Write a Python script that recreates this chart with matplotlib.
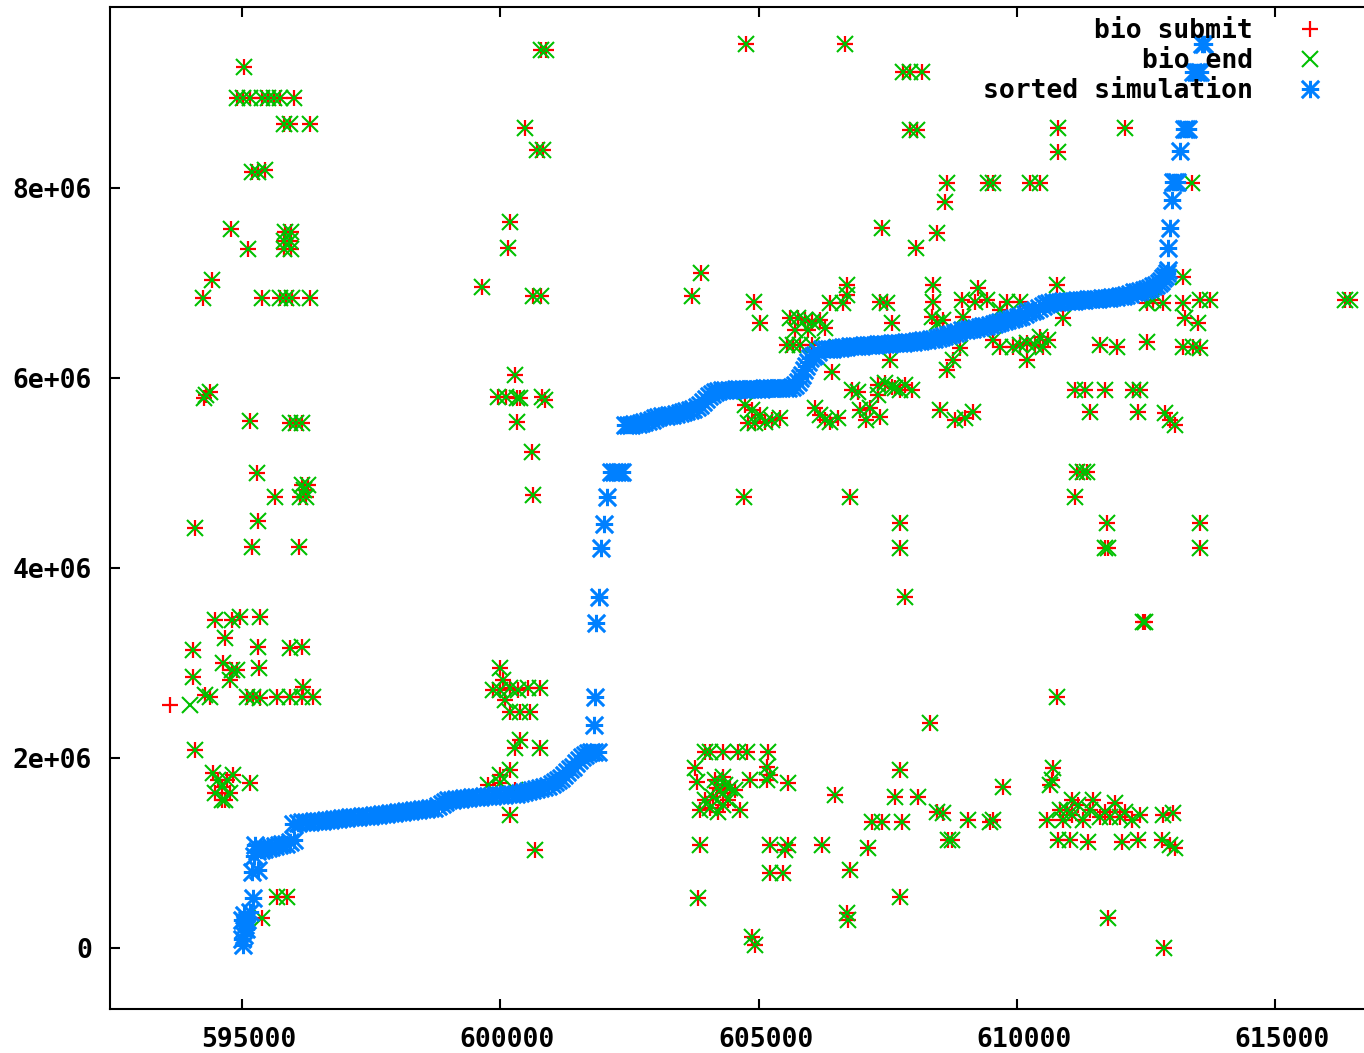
import matplotlib
matplotlib.use("Agg")
import matplotlib.pyplot as plt
import matplotlib.transforms as mtransforms
from matplotlib.font_manager import FontProperties
from matplotlib.path import Path
from matplotlib.ticker import FuncFormatter
import numpy as np

# bio submit / bio end share most positions (y in millions)
bio_x = [
    595040, 594900, 595020, 595150, 595390, 595500, 595620, 595740, 596010,
    595810, 595930, 596320, 595190, 595310, 595450, 594790, 595120,
    595830, 595950, 595810, 595930, 595810, 595950, 594420, 594240,
    595390, 595740, 595850, 595970, 596320, 594300, 594380, 594260,
    595150, 595930, 596050, 596160, 595290, 595640, 596160, 596280,
    596120, 596240, 596200, 595310, 594090, 595190, 596100,
    594480, 594810, 594960, 595350, 594670, 594050, 595310, 595330,
    595930, 596160, 594630, 594810, 594900, 594050, 594770, 596180,
    594280, 594380, 595100, 595210, 595350, 595680, 595930, 596160, 596370,
    594090, 594440, 594710, 594610, 594770, 594610, 594480, 594830,
    594540, 594670, 595150, 595680, 595870, 595390,
    # around 600000
    600890, 600790, 600480, 600710, 600830, 600190, 600150, 599650,
    600630, 600790, 600290, 599960, 600110, 600320, 600380, 600810,
    600870, 600320, 600610, 600630, 599990, 600050, 599860, 599990,
    600190, 600340, 600540, 600770, 600090, 600190, 600380, 600580,
    600380, 600290, 600770, 599990, 600190, 599990, 599760, 600290,
    600190, 600670,
    # 604000 - 606000 low
    603960, 604060, 604310, 604600, 604780, 605180, 603770, 603810,
    604310, 604830, 605160, 605220, 605160, 605570, 604200, 604120,
    604310, 604450, 603870, 604060, 604640, 604310, 603870, 605220,
    605510, 605570, 605220, 605470, 603830, 604870, 604930,
    604160, 604350, 604550, 603960, 604220, 604410,
    # 606000 - 610000 low
    606480, 606230, 606770, 606710, 606730, 607200, 607120, 607390,
    607640, 607740, 607780, 607740, 608090, 608320, 608460, 608570,
    608670, 608750, 609060, 609480, 609540, 609730,
    # 610000 - 613000 low
    610700, 610680, 610640, 611070, 611480, 610970, 611070, 610580,
    610890, 611280, 611610, 611800, 611900, 612000, 612230, 612380,
    612830, 613020, 610800, 611030, 611380, 612040, 612350, 612810,
    612970, 613060, 610780, 612480, 612440, 611770, 612850,
    611170, 611280, 611360, 611130, 611750, 611710, 611770, 613550, 613550,
    611190, 611420, 611710, 612090, 610830,
    # upper middle
    604760, 606670, 607800, 607930, 608160, 607930, 608070, 607390,
    608050, 608460, 608650, 608610, 609440, 609540, 610260, 610450,
    610800, 610800, 612090, 613390, 603890, 603710, 604910, 605030,
    605610, 605760, 605900, 606040, 606190, 605710, 605960, 606290,
    605670, 605550, 605800, 606040, 606710, 606710, 606380, 606640,
    607350, 607490, 607580, 608380, 608380, 608360, 608460, 608570,
    608940, 609250, 609190, 609420, 609810, 610060, 608960, 609670,
    610780, 610890, 606520, 607550, 606420, 608650, 608760, 608900,
    609540, 609670, 609930, 610200, 610510, 610450, 610200, 611610,
    611940, 612520, 613220, 613410, 612830, 613220, 613220, 613260,
    612520, 612640, 613550, 613740, 613510, 613550, 616450, 616350,
    610060, 610350, 610600,
    # middle band 5.5e6 - 6e6
    604740, 604870, 605030, 605130, 605260, 605420, 604800, 604930,
    606090, 606190, 606290, 606380, 606540, 606810, 606930, 606960,
    607160, 607350, 607080, 607310, 607450, 607580, 607740, 607840,
    607970, 607310, 607640, 606770, 607740, 607740, 607840, 608510,
    608800, 608990, 609150, 611130, 611320, 611420, 611710, 612250,
    612380, 612350, 612870, 612970, 613060, 604720,
]
bio_y = [
    9.27, 8.95, 8.95, 8.95, 8.95, 8.95, 8.95, 8.95, 8.95,
    8.67, 8.67, 8.67, 8.17, 8.17, 8.19, 7.57, 7.36,
    7.54, 7.54, 7.44, 7.44, 7.36, 7.36, 7.03, 6.84,
    6.84, 6.84, 6.84, 6.84, 6.84, 5.82, 5.85, 5.79,
    5.55, 5.53, 5.53, 5.53, 5.00, 4.75, 4.87, 4.87,
    4.75, 4.75, 4.82, 4.49, 4.42, 4.22, 4.22,
    3.45, 3.45, 3.48, 3.48, 3.26, 3.14, 3.17, 2.95,
    3.16, 3.17, 3.00, 2.93, 2.93, 2.85, 2.82, 2.75,
    2.66, 2.64, 2.64, 2.64, 2.63, 2.64, 2.64, 2.64, 2.64,
    2.08, 1.84, 1.77, 1.69, 1.63, 1.56, 1.63, 1.82,
    1.77, 1.56, 1.74, 0.54, 0.54, 0.32,
    # around 600000
    9.45, 9.45, 8.63, 8.40, 8.40, 7.64, 7.37, 6.96,
    6.86, 6.86, 6.03, 5.80, 5.80, 5.79, 5.79, 5.80,
    5.77, 5.54, 5.22, 4.77, 2.95, 2.82, 2.72, 2.72,
    2.74, 2.72, 2.74, 2.74, 2.61, 2.48, 2.48, 2.48,
    2.19, 2.11, 2.11, 1.82, 1.87, 1.74, 1.72, 1.66,
    1.40, 1.03,
    # 604000 - 606000 low
    2.06, 2.06, 2.06, 2.06, 2.06, 2.06, 1.89, 1.75,
    1.80, 1.77, 1.91, 1.82, 1.77, 1.74, 1.68, 1.59,
    1.63, 1.68, 1.45, 1.47, 1.45, 1.51, 1.08, 1.08,
    1.03, 1.08, 0.79, 0.79, 0.53, 0.12, 0.03,
    1.77, 1.72, 1.66, 1.56, 1.43, 1.56,
    # 606000 - 610000 low
    1.61, 1.08, 0.82, 0.37, 0.29, 1.33, 1.05, 1.33,
    1.59, 1.87, 1.33, 0.54, 1.59, 2.37, 1.43, 1.42,
    1.14, 1.14, 1.35, 1.33, 1.35, 1.69,
    # 610000 - 613000 low
    1.89, 1.77, 1.72, 1.56, 1.56, 1.45, 1.40, 1.35,
    1.35, 1.35, 1.38, 1.38, 1.53, 1.38, 1.35, 1.40,
    1.40, 1.42, 1.14, 1.14, 1.12, 1.12, 1.14, 1.14,
    1.08, 1.05, 2.64, 3.43, 3.43, 0.32, 0.00,
    5.01, 5.01, 5.01, 4.75, 4.47, 4.21, 4.21, 4.47, 4.21,
    1.51, 1.45, 1.43, 1.43, 1.45,
    # upper middle
    9.52, 9.52, 9.22, 9.22, 9.22, 8.61, 8.61, 7.58,
    7.37, 7.53, 8.05, 7.85, 8.05, 8.05, 8.05, 8.05,
    8.63, 8.38, 8.63, 8.05, 7.11, 6.86, 6.80, 6.58,
    6.63, 6.63, 6.61, 6.59, 6.61, 6.51, 6.51, 6.53,
    6.35, 6.35, 6.35, 6.35, 6.98, 6.87, 6.79, 6.79,
    6.80, 6.79, 6.58, 6.98, 6.80, 6.64, 6.58, 6.61,
    6.82, 6.95, 6.80, 6.82, 6.80, 6.80, 6.64, 6.72,
    6.98, 6.63, 6.33, 6.19, 6.06, 6.08, 6.19, 6.32,
    6.40, 6.33, 6.33, 6.37, 6.33, 6.43, 6.19, 6.35,
    6.33, 6.38, 6.33, 6.33, 6.79, 6.79, 7.06, 6.63,
    6.79, 6.82, 6.82, 6.82, 6.58, 6.32, 6.82, 6.82,
    6.35, 6.35, 6.40,
    # middle band 5.5e6 - 6e6
    5.72, 5.66, 5.61, 5.54, 5.56, 5.58, 5.53, 5.53,
    5.68, 5.61, 5.56, 5.54, 5.58, 5.87, 5.85, 5.66,
    5.68, 5.59, 5.56, 5.93, 5.95, 5.91, 5.87, 5.93,
    5.87, 5.82, 5.89, 4.75, 4.47, 4.21, 3.69, 5.66,
    5.56, 5.58, 5.64, 5.87, 5.87, 5.64, 5.87, 5.87,
    5.87, 5.64, 5.63, 5.56, 5.51, 4.75,
]
submit_only_x = [593610]
submit_only_y = [2.56]
end_only_x = [593990]
end_only_y = [2.56]

# sorted simulation (y in millions)
sim_x = [
    # bottom cluster
    595020, 595000, 595040, 595060, 595080, 595040, 595100, 595000,
    595160, 595210, 595190, 595310,
    # first step
    595230, 595260, 595290, 595360, 595430, 595500, 595570, 595640,
    595710, 595780, 595850, 595920, 596010,
    # long slow rise
    595980, 596080, 596160, 596240, 596310, 596390, 596470, 596550,
    596620, 596700, 596780, 596860, 596930, 597010, 597090, 597170,
    597240, 597320, 597400, 597480, 597550, 597630, 597710, 597790,
    597860, 597940, 598020, 598100, 598170, 598250, 598330, 598410,
    598480, 598560, 598640, 598720, 598800, 598870, 598930, 598990,
    599060, 599140, 599220, 599300, 599370, 599450, 599530, 599610,
    599680, 599760, 599840, 599920, 599990, 600070, 600150, 600230,
    600300, 600380, 600460, 600540, 600610, 600690, 600770, 600850,
    600920, 601000, 601060, 601120, 601180, 601230, 601290, 601350,
    601410, 601470, 601530, 601580, 601640, 601700, 601760, 601820,
    601890,
    # vertical jump
    601820, 601830, 601850, 601910, 601950, 602010, 602070,
    602140, 602200, 602260, 602320, 602360,
    # 5.5e6 plateau
    602410, 602470, 602530, 602590, 602660, 602730, 602790, 602860,
    602930, 603000, 603060, 603130, 603200, 603270, 603330, 603400,
    603470, 603540, 603600, 603670, 603740, 603810, 603870, 603930,
    603990, 604040, 604100, 604160, 604220, 604290, 604360, 604430,
    604500, 604560, 604630, 604700, 604770, 604840, 604900, 604970,
    605040, 605110, 605170, 605240, 605310, 605380, 605440, 605510,
    605580, 605650, 605710, 605760, 605800, 605840, 605880, 605920,
    605960, 606000, 606050, 606090, 606160,
    # 6.3e6 - 7.1e6 rise
    606230, 606300, 606360, 606430, 606500, 606570, 606640, 606700,
    606770, 606840, 606910, 606980, 607040, 607110, 607180, 607250,
    607310, 607380, 607450, 607520, 607580, 607650, 607720, 607790,
    607860, 607920, 607990, 608060, 608130, 608190, 608260, 608330,
    608400, 608470, 608530, 608600, 608670, 608730, 608800, 608870,
    608940, 609010, 609080, 609140, 609210, 609280, 609350, 609410,
    609480, 609550, 609620, 609680, 609750, 609820, 609890, 609950,
    610020, 610090, 610160, 610220, 610290, 610360, 610430, 610500,
    610570, 610630, 610700, 610770, 610840, 610900, 610970, 611040,
    611110, 611170, 611240, 611310, 611380, 611440, 611510, 611580,
    611650, 611720, 611790, 611850, 611920, 611990, 612060, 612120,
    612190, 612260, 612330, 612390, 612460, 612520, 612580, 612640,
    612700, 612750, 612790, 612830, 612870, 612900, 612930,
    # top tail
    612930, 612970, 613010, 613030, 613070, 613110, 613160,
    613240, 613280, 613320, 613410, 613460, 613500, 613550,
    613580, 613620,
]
sim_y = [
    # bottom cluster
    0.03, 0.10, 0.14, 0.24, 0.20, 0.35, 0.30, 0.30,
    0.38, 0.53, 0.80, 0.82,
    # first step
    0.97, 1.08, 1.02, 1.03, 1.04, 1.05, 1.06, 1.07,
    1.08, 1.09, 1.10, 1.12, 1.14,
    # long slow rise
    1.31, 1.32, 1.33, 1.33, 1.33, 1.34, 1.34, 1.34,
    1.35, 1.35, 1.36, 1.36, 1.37, 1.37, 1.38, 1.38,
    1.38, 1.39, 1.39, 1.39, 1.40, 1.40, 1.41, 1.41,
    1.42, 1.42, 1.43, 1.43, 1.44, 1.44, 1.45, 1.45,
    1.46, 1.46, 1.47, 1.47, 1.50, 1.52, 1.54, 1.56,
    1.56, 1.57, 1.57, 1.58, 1.58, 1.59, 1.59, 1.59,
    1.60, 1.60, 1.60, 1.61, 1.61, 1.61, 1.62, 1.62,
    1.62, 1.63, 1.64, 1.65, 1.66, 1.67, 1.68, 1.70,
    1.71, 1.73, 1.75, 1.77, 1.79, 1.82, 1.85, 1.88,
    1.91, 1.95, 1.98, 2.01, 2.03, 2.05, 2.06, 2.06,
    2.06,
    # vertical jump
    2.35, 2.64, 3.42, 3.69, 4.21, 4.46, 4.75,
    5.01, 5.01, 5.01, 5.01, 5.01,
    # 5.5e6 plateau
    5.51, 5.51, 5.51, 5.52, 5.52, 5.53, 5.54, 5.55,
    5.56, 5.58, 5.59, 5.60, 5.60, 5.61, 5.61, 5.62,
    5.63, 5.64, 5.65, 5.66, 5.67, 5.69, 5.72, 5.75,
    5.78, 5.81, 5.83, 5.85, 5.86, 5.87, 5.87, 5.87,
    5.87, 5.88, 5.88, 5.88, 5.88, 5.88, 5.88, 5.88,
    5.88, 5.89, 5.89, 5.89, 5.89, 5.89, 5.89, 5.89,
    5.89, 5.90, 5.93, 5.96, 6.00, 6.03, 6.08, 6.13,
    6.17, 6.21, 6.23, 6.24, 6.27,
    # 6.3e6 - 7.1e6 rise
    6.30, 6.30, 6.31, 6.31, 6.32, 6.32, 6.33, 6.33,
    6.34, 6.34, 6.34, 6.34, 6.35, 6.35, 6.35, 6.35,
    6.36, 6.36, 6.36, 6.36, 6.37, 6.37, 6.37, 6.37,
    6.38, 6.38, 6.38, 6.39, 6.39, 6.40, 6.40, 6.41,
    6.41, 6.42, 6.43, 6.44, 6.45, 6.46, 6.47, 6.48,
    6.50, 6.51, 6.52, 6.52, 6.53, 6.54, 6.55, 6.55,
    6.56, 6.57, 6.58, 6.59, 6.60, 6.61, 6.62, 6.63,
    6.64, 6.65, 6.67, 6.69, 6.71, 6.72, 6.74, 6.76,
    6.78, 6.79, 6.80, 6.80, 6.80, 6.81, 6.81, 6.81,
    6.81, 6.82, 6.82, 6.82, 6.83, 6.83, 6.83, 6.83,
    6.84, 6.84, 6.84, 6.85, 6.85, 6.86, 6.86, 6.87,
    6.88, 6.90, 6.91, 6.92, 6.93, 6.94, 6.95, 6.97,
    6.98, 7.00, 7.02, 7.05, 7.07, 7.10, 7.14,
    # top tail
    7.37, 7.58, 7.87, 8.06, 8.06, 8.06, 8.39,
    8.62, 8.62, 8.62, 9.22, 9.22, 9.22, 9.22,
    9.52, 9.52,
]

x_ticks = [595000, 600000, 605000, 610000, 615000]
y_ticks = [0, 2e6, 4e6, 6e6, 8e6]

red = "#ff0000"
green = "#00c000"
blue = "#0080ff"

# gnuplot style star: plus and cross together
star = Path([(-1, 0), (1, 0), (0, -1), (0, 1), (-1, -1), (1, 1), (-1, 1), (1, -1)],
            [Path.MOVETO, Path.LINETO] * 4)

font = dict(family="DejaVu Sans Mono", weight="bold", size=19)

fig = plt.figure(figsize=(13.64, 10.53), dpi=100)
ax = fig.add_axes([110 / 1364, 1 - 1009 / 1053, 1 - 110 / 1364, (1009 - 7) / 1053])

ms = 11.5
sx = np.array(bio_x + submit_only_x)
sy = np.array(bio_y + submit_only_y) * 1e6
ex = np.array(bio_x + end_only_x)
ey = np.array(bio_y + end_only_y) * 1e6
ax.plot(sx, sy, ls="none", marker="+", ms=ms, mew=1.6, color=red, label="bio submit")
ax.plot(ex, ey, ls="none", marker="x", ms=ms * 0.95, mew=1.5, color=green, label="bio end")
ax.plot(sim_x, np.array(sim_y) * 1e6, ls="none", marker=star, ms=12.5, mew=2.2,
        color=blue, label="sorted simulation")

ax.set_xlim(592444, 616722)
ax.set_ylim(-0.642e6, 9.905e6)
ax.set_xticks(x_ticks)
ax.set_yticks(y_ticks)
ax.yaxis.set_major_formatter(FuncFormatter(lambda v, p: "%g" % v))
ax.xaxis.set_major_formatter(FuncFormatter(lambda v, p: "%d" % v))
ax.tick_params(direction="in", length=7, width=1.5, top=True, right=False)
ax.tick_params(axis="x", pad=13)
ax.tick_params(axis="y", pad=13)
for lab in ax.get_xticklabels() + ax.get_yticklabels():
    lab.set_fontproperties(FontProperties(**font))
shift = mtransforms.ScaledTranslation(7 / 100, 0, fig.dpi_scale_trans)
for lab in ax.get_xticklabels():
    lab.set_transform(lab.get_transform() + shift)
for s in ["left", "bottom", "top"]:
    ax.spines[s].set_linewidth(1.5)
ax.spines["right"].set_visible(False)

ax.legend(loc="upper right", markerfirst=False, frameon=False,
          prop=FontProperties(**font),
          handlelength=2, handletextpad=1.15, labelspacing=0.15,
          borderpad=0, borderaxespad=0,
          bbox_to_anchor=(1336 / 1364, 1 - 18 / 1053),
          bbox_transform=fig.transFigure)

fig.savefig("out.png", dpi=100)
